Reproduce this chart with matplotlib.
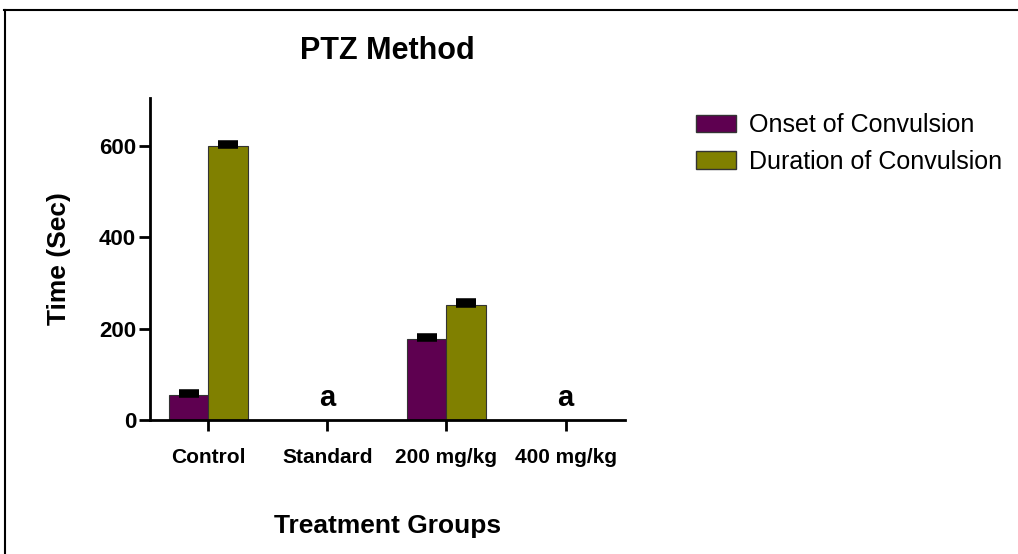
import numpy as np
import matplotlib
matplotlib.use('Agg')
import matplotlib.pyplot as plt
from matplotlib.lines import Line2D
from matplotlib.patches import Patch

plt.rcParams['font.family'] = ['Liberation Sans', 'DejaVu Sans']

groups = ['Control', 'Standard', '200 mg/kg', '400 mg/kg']
onset = [55, 0, 178, 0]
onset_err = [6, 0, 6, 0]
duration = [601, 0, 252, 0]
duration_err = [5, 0, 9, 0]
marks = ['', 'a', '', 'a']

fig = plt.figure(figsize=(10.18, 5.54), dpi=100)
ax = fig.add_axes([0.1473, 0.2419, 0.4667, 0.5811])

x = np.arange(len(groups))
w = 0.33
c_on = '#5e0050'
c_du = '#808000'
for i in range(len(groups)):
    if onset[i] > 0:
        ax.bar(x[i] - w/2, onset[i], w, color=c_on, edgecolor='#333333', linewidth=0.8)
        ax.errorbar(x[i] - w/2, onset[i], yerr=[[0], [onset_err[i]]], fmt='none',
                    ecolor='black', elinewidth=1.5, capsize=7, capthick=4)
    if duration[i] > 0:
        ax.bar(x[i] + w/2, duration[i], w, color=c_du, edgecolor='#333333', linewidth=0.8)
        ax.errorbar(x[i] + w/2, duration[i], yerr=[[0], [duration_err[i]]], fmt='none',
                    ecolor='black', elinewidth=1.5, capsize=7, capthick=4)
    if marks[i]:
        ax.text(x[i], 18, marks[i], ha='center', va='bottom', fontsize=21, fontweight='bold')

ax.set_xlim(-0.49, 3.5)
ax.set_ylim(0, 705)
ax.set_yticks([0, 200, 400, 600])
ax.set_xticks(x)
ax.set_xticklabels(groups, fontsize=15, fontweight='bold')
for lab in ax.get_yticklabels():
    lab.set_fontsize(16)
    lab.set_fontweight('bold')
ax.tick_params(axis='both', direction='out', length=8, width=2)
ax.tick_params(axis='y', pad=2)
ax.tick_params(axis='x', pad=12)
for s in ['top', 'right']:
    ax.spines[s].set_visible(False)
for s in ['left', 'bottom']:
    ax.spines[s].set_linewidth(2)

ax.set_title('PTZ Method', fontsize=22, fontweight='bold', pad=28)
ax.set_xlabel('Treatment Groups', fontsize=19, fontweight='bold', labelpad=34)
ax.set_ylabel('Time (Sec)', fontsize=19, fontweight='bold', labelpad=20)

handles = [Patch(facecolor=c_on, edgecolor='#333333', label='Onset of Convulsion'),
           Patch(facecolor=c_du, edgecolor='#333333', label='Duration of Convulsion')]
fig.legend(handles=handles, loc='upper left', bbox_to_anchor=(0.662, 0.836), frameon=False,
           fontsize=18, handlelength=1.6, handleheight=0.7, handletextpad=0.5, labelspacing=0.5)

# border lines of the original picture
fig.add_artist(Line2D([0.004, 1.0], [0.982, 0.982], color='black', linewidth=1.5, transform=fig.transFigure))
fig.add_artist(Line2D([0.005, 0.005], [0.0, 0.982], color='black', linewidth=1.5, transform=fig.transFigure))

fig.savefig('out.png', dpi=100)
